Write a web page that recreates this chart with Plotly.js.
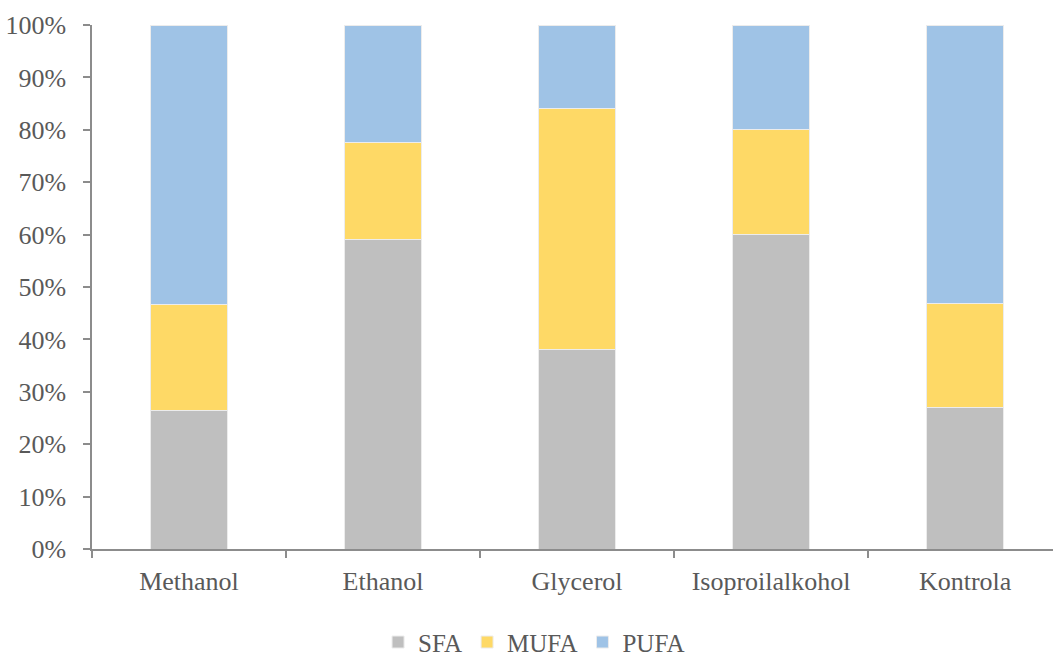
<!DOCTYPE html>
<html>
<head>
<meta charset="utf-8">
<script src="https://cdn.plot.ly/plotly-3.0.1.min.js"></script>
<style>
  html, body { margin: 0; padding: 0; background: #fff; }
  #chart { width: 1053px; height: 657px; }
</style>
</head>
<body>
<div id="chart"></div>
<script>
// Fatty acid composition (% of total) per extraction solvent
const categories = ["Methanol", "Ethanol", "Glycerol", "Isoproilalkohol", "Kontrola"];
const sfa  = [26.5, 59.0, 38.0, 60.1, 27.1];
const mufa = [20.1, 18.5, 46.0, 19.9, 19.8];
const pufa = [53.4, 22.5, 16.0, 20.0, 53.1];
const yTickVals = [0, 10, 20, 30, 40, 50, 60, 70, 80, 90, 100];

const textColor = "#595959";
const axisColor = "#8c8c8c";
const fontFamily = "'Liberation Serif', 'Times New Roman', serif";

function series(name, values, color) {
  return {
    type: "bar",
    name: name,
    x: categories,
    y: values,
    marker: { color: color, line: { color: "#ececec", width: 1 } },
    hoverinfo: "x+y+name"
  };
}

const data = [
  series("SFA", sfa, "#bfbfbf"),
  series("MUFA", mufa, "#fed966"),
  series("PUFA", pufa, "#9fc3e6")
];

const layout = {
  width: 1053,
  height: 657,
  margin: { l: 92, r: 0, t: 25, b: 108, autoexpand: false },
  paper_bgcolor: "#ffffff",
  plot_bgcolor: "#ffffff",
  barmode: "stack",
  bargap: 0.6,
  font: { family: fontFamily, size: 26, color: textColor },
  showlegend: true,
  legend: {
    orientation: "h",
    x: 0.46,
    xanchor: "center",
    y: -0.178,
    yanchor: "middle",
    font: { family: fontFamily, size: 25, color: textColor },
    itemwidth: 30,
    traceorder: "normal"
  },
  xaxis: {
    type: "category",
    range: [-0.5, 4.453],
    automargin: false,
    showline: true,
    linecolor: axisColor,
    linewidth: 1.5,
    ticks: "outside",
    tickson: "boundaries",
    ticklen: 7,
    tickcolor: axisColor,
    tickwidth: 1.5,
    showgrid: false,
    zeroline: false,
    ticklabelstandoff: 8,
    tickfont: { family: fontFamily, size: 26, color: textColor }
  },
  yaxis: {
    range: [0, 100],
    automargin: false,
    tickvals: yTickVals,
    ticktext: yTickVals.map(v => v + "%"),
    showline: true,
    linecolor: axisColor,
    linewidth: 1.5,
    ticks: "outside",
    ticklen: 7,
    tickcolor: axisColor,
    tickwidth: 1.5,
    showgrid: false,
    zeroline: false,
    ticklabelstandoff: 12,
    tickfont: { family: fontFamily, size: 26, color: textColor }
  }
};

Plotly.newPlot("chart", data, layout, { displayModeBar: false, responsive: false });
</script>
</body>
</html>
